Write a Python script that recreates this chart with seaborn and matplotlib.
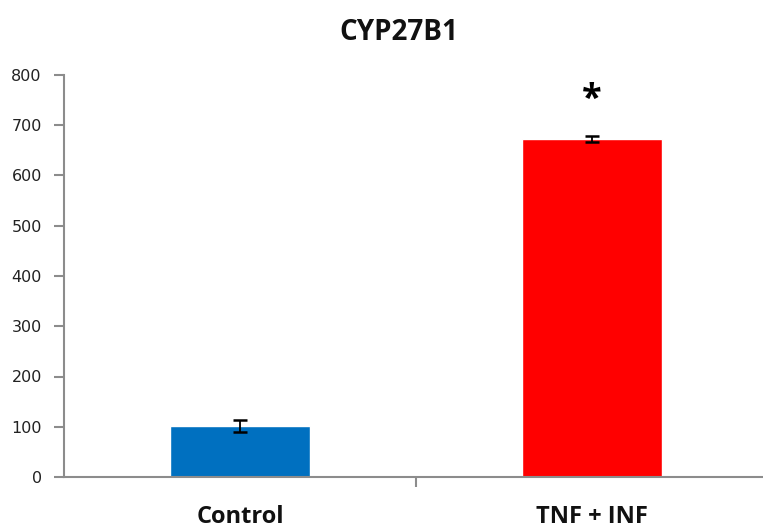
import pandas as pd
import matplotlib.pyplot as plt
import seaborn as sns

groups = ['Control', 'TNF + INF']
means = [101, 672]
errors = [12, 6]
bar_colors = ['#0070C0', '#FF0000']
y_ticks = [0, 100, 200, 300, 400, 500, 600, 700, 800]

sns.set_style('white')
plt.rcParams['font.family'] = ['Open Sans', 'DejaVu Sans']

data = pd.DataFrame({'group': groups, 'value': means})

fig = plt.figure(figsize=(7.63, 5.30), dpi=100)
ax = fig.add_axes([64 / 763, 53 / 530, 704 / 763, 402 / 530])

sns.barplot(data=data, x='group', y='value', hue='group',
            palette=bar_colors, width=0.4, saturation=1, legend=False, ax=ax)
ax.errorbar(range(len(groups)), means, yerr=errors, fmt='none',
            ecolor='black', elinewidth=1.3, capsize=5, capthick=1.8)

# significance mark above the treated bar
ax.text(1, 750, '*', ha='center', va='center', fontsize=26,
        fontweight='bold', color='black')

ax.set_xlim(-0.5, 1.5)
ax.set_ylim(0, 800)
ax.set_yticks(y_ticks)
ax.set_yticklabels([str(t) for t in y_ticks], fontsize=11.5, color='#222222',
                   family='DejaVu Sans')
ax.set_xticks([0.5])
ax.set_xticklabels([''])
ax.tick_params(axis='x', bottom=True, direction='out', length=7, width=1.5, color='#8c8c8c')
ax.tick_params(axis='y', left=True, direction='out', length=7, width=1.5, color='#8c8c8c', pad=9)
for i, g in enumerate(groups):
    ax.text(i, -40 / 402, g, transform=ax.get_xaxis_transform(), ha='center',
            va='center', fontsize=17, fontweight='bold', color='#111111')

ax.set_xlabel('')
ax.set_ylabel('')
sns.despine(ax=ax, top=True, right=True)
for side in ['left', 'bottom']:
    ax.spines[side].set_color('#8c8c8c')
    ax.spines[side].set_linewidth(1.5)

fig.text(399 / 763, 1 - 32 / 530, 'CYP27B1', ha='center', va='center',
         fontsize=20, fontweight='bold', color='#111111')

fig.savefig('out.png', dpi=100)
